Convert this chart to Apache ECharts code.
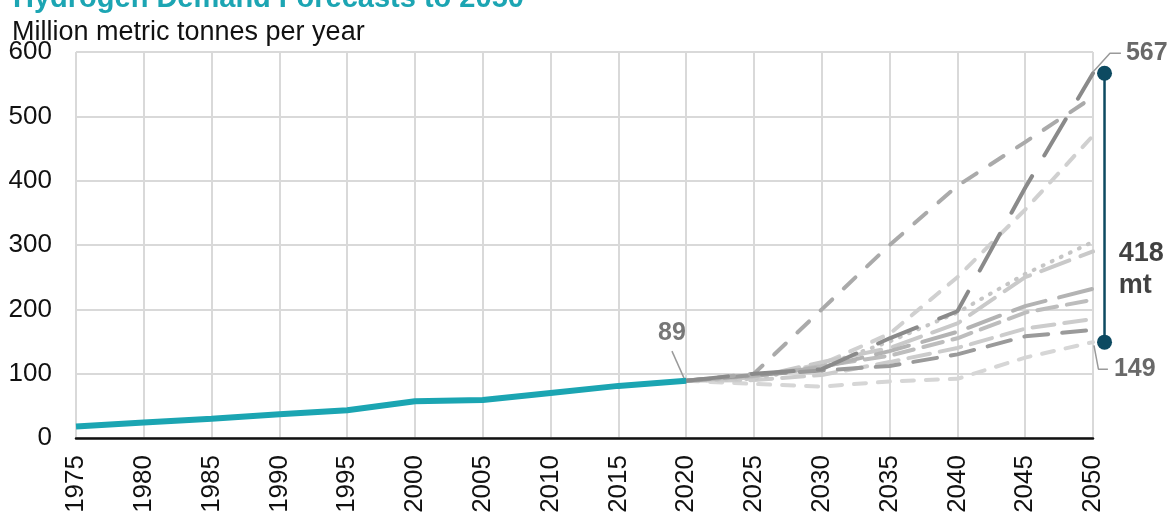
<!DOCTYPE html>
<html>
<head>
<meta charset="utf-8">
<script src="https://cdn.jsdelivr.net/npm/echarts@6/dist/echarts.min.js"></script>
<style>
html,body{margin:0;padding:0;background:#fff;}
#chart{width:1175px;height:513px;}
</style>
</head>
<body>
<div id="chart"></div>
<script>
// ---- Data ----
const chartTitle = 'Hydrogen Demand Forecasts to 2050';
const unitLabel = 'Million metric tonnes per year';
const histYears = [1975, 1980, 1985, 1990, 1995, 2000, 2005, 2010, 2015, 2020];
const histValues = [18, 24, 30, 37, 43, 57, 59, 70, 81, 89];
const fcYears = [2020, 2025, 2030, 2035, 2040, 2045, 2050];
const fcA = [89, 100, 107, 155, 197, 389, 567];
const fcB = [89, 100, 200, 300, 392, 460, 530];
const fcC = [89, 95, 115, 162, 250, 355, 470];
const fcD = [89, 92, 112, 150, 195, 255, 305];
const fcE = [89, 94, 118, 140, 178, 250, 290];
const fcF = [89, 97, 110, 135, 165, 205, 232];
const fcG = [89, 98, 105, 112, 130, 158, 168];
const fcH = [89, 84, 80, 88, 92, 125, 149];
const fcI = [89, 96, 112, 128, 155, 195, 215];
const fcJ = [89, 90, 98, 118, 140, 170, 185];
const rangeLow = 149;
const rangeHigh = 567;
const rangeText = '418\nmt';
const yTicks = [0, 100, 200, 300, 400, 500, 600];

// ---- Layout ----
const FONT = 'Liberation Sans, Arial, sans-serif';
const G = { left: 76, right: 82, top: 52, bottom: 75 };
const W = 1175;
const xMin = 1975, xMax = 2050;
const plotW = W - G.left - G.right;
// overlay grid reaching the right edge of the canvas, same scale per year
const xMaxWide = xMax + G.right * (xMax - xMin) / plotW;

function pairs(xs, ys){ return xs.map((x, i) => [x, ys[i]]); }

function fc(name, vals, color, dash, width){
  return {
    name, type: 'line', data: pairs(fcYears, vals), symbol: 'none', z: 3,
    lineStyle: { color, width: width || 4, type: dash, cap: 'round' },
    silent: true, animation: false
  };
}
function leader(points){
  return {
    type: 'line', xAxisIndex: 1, yAxisIndex: 1, symbol: 'none', clip: false, z: 6,
    animation: false, silent: true, data: points,
    lineStyle: { color: '#9a9a9a', width: 1.5 }
  };
}
function textAt(point, text, position, distance, style){
  return {
    type: 'scatter', xAxisIndex: 1, yAxisIndex: 1, clip: false, z: 7, animation: false,
    silent: true, symbolSize: 0, data: [point],
    label: Object.assign({ show: true, position, distance, formatter: text, fontFamily: FONT }, style)
  };
}
const numStyle = { color: '#444', fontSize: 25, fontWeight: 'bold' };

const series = [
  fc('H', fcH, '#d6d6d6', [12, 12]),
  fc('J', fcJ, '#cccccc', [22, 10]),
  fc('C', fcC, '#d0d0d0', [12, 12]),
  fc('D', fcD, '#c6c6c6', [1, 9]),
  fc('E', fcE, '#c9c9c9', [30, 12]),
  fc('I', fcI, '#bdbdbd', [20, 10]),
  fc('F', fcF, '#b3b3b3', [34, 14]),
  fc('G', fcG, '#9a9a9a', [24, 14]),
  fc('B', fcB, '#aaaaaa', [16, 16]),
  fc('A', fcA, '#8a8a8a', [42, 24]),
  {
    name: 'Historical', type: 'line', data: pairs(histYears, histValues), symbol: 'none', z: 5,
    lineStyle: { color: '#1ba5b2', width: 6 }, animation: false
  },
  // "89" leader + label
  leader([[2018.95, 135], [2019.84, 93]]),
  textAt([2018.95, 137], String(histValues[histValues.length - 1]), 'top', 4, { color: '#555', fontSize: 25, fontWeight: 'bold' }),
  // range bar
  {
    type: 'line', xAxisIndex: 1, yAxisIndex: 1, clip: false, z: 6, animation: false,
    data: [[2050.85, rangeLow], [2050.85, rangeHigh]],
    symbol: 'circle', symbolSize: 15,
    itemStyle: { color: '#0d4a61' },
    lineStyle: { color: '#0d4a61', width: 2.5 }
  },
  // 567 leader
  leader([[2050, 569], [2051.25, 598], [2052.06, 598]]),
  textAt([2052.06, 598], String(rangeHigh), 'right', 5, numStyle),
  // 149 leader
  leader([[2050.07, 144], [2050.4, 107], [2051.1, 107]]),
  textAt([2051.1, 107], String(rangeLow), 'right', 6, numStyle),
  // range text
  textAt([2051.6, (rangeLow + rangeHigh) / 2 - 96], rangeText, 'right', 4,
    { color: '#111', fontSize: 27, fontWeight: 'bold', lineHeight: 32, align: 'left' })
];

const option = {
  backgroundColor: '#fff',
  animation: false,
  textStyle: { fontFamily: FONT },
  title: [
    { text: chartTitle, left: 8, top: -21, textStyle: { color: '#1ca5b3', fontSize: 29, fontWeight: 'bold', fontFamily: FONT } },
    { text: unitLabel, left: 7, top: 14, textStyle: { color: '#111', fontSize: 27, fontWeight: 'normal', fontFamily: FONT } }
  ],
  grid: [
    { left: G.left, right: G.right, top: G.top, bottom: G.bottom, containLabel: false, outerBoundsMode: 'none' },
    { left: G.left, right: 0, top: G.top, bottom: G.bottom, containLabel: false, outerBoundsMode: 'none' }
  ],
  xAxis: [{
    type: 'value', min: xMin, max: xMax, interval: 5, gridIndex: 0,
    axisLine: { show: true, lineStyle: { color: '#111', width: 2.5 } },
    axisTick: { show: false },
    axisLabel: { rotate: 90, fontSize: 26, color: '#111', margin: 17, fontFamily: FONT, formatter: v => String(v) },
    splitLine: { show: true, lineStyle: { color: '#d9d9d9', width: 2 } }
  }, {
    type: 'value', min: xMin, max: xMaxWide, gridIndex: 1, show: false,
    splitLine: { show: false }
  }],
  yAxis: [{
    type: 'value', min: yTicks[0], max: yTicks[yTicks.length - 1], interval: 100, gridIndex: 0,
    axisLine: { show: false }, axisTick: { show: false },
    axisLabel: { fontSize: 26, color: '#111', margin: 24, fontFamily: FONT },
    splitLine: { show: true, lineStyle: { color: '#d9d9d9', width: 2 } }
  }, {
    type: 'value', min: yTicks[0], max: yTicks[yTicks.length - 1], gridIndex: 1, show: false,
    splitLine: { show: false }
  }],
  series
};

const chart = echarts.init(document.getElementById('chart'), null, { renderer: 'canvas' });
chart.setOption(option);
</script>
</body>
</html>
